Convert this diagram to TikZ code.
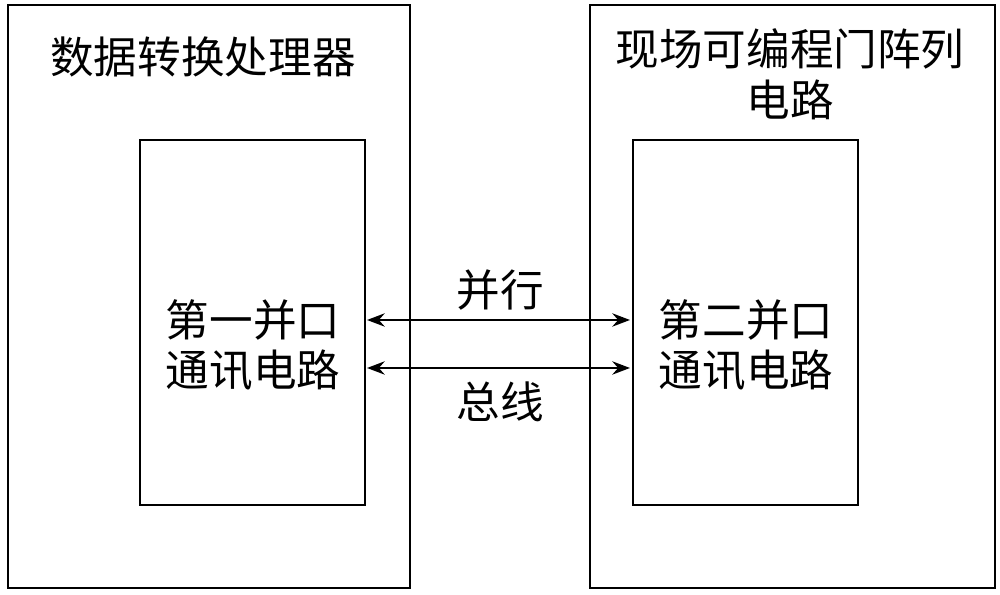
\documentclass[tikz,border=0pt]{standalone}
\usepackage{fontspec}
\setmainfont{Noto Sans CJK SC}
\usetikzlibrary{arrows.meta}
\begin{document}
\begin{tikzpicture}[x=0.01cm, y=-0.01cm,
    every node/.style={font=\fontsize{12.4}{14.4}\selectfont},
    box/.style={draw, thick, inner sep=0pt},
    link/.style={thick, {Stealth[length=5pt]}-{Stealth[length=5pt]}}]
            \useasboundingbox (0,0) rectangle (1000,595);
            \draw[box] (8,5) rectangle (410,588);
            \draw[box] (590,5) rectangle (995,588);
            \draw[box] (140,140) rectangle (365,505);
            \draw[box] (633,140) rectangle (858,505);
            \node (t1) at (203,57) {数据转换处理器};
            \node[align=center] (t2) at (790,74) {现场可编程门阵列\\电路};
            \node[align=center] (p1) at (253,345) {第一并口\\通讯电路};
            \node[align=center] (p2) at (746,345) {第二并口\\通讯电路};
            \coordinate (a1) at (367,320);
            \coordinate (a2) at (630,320);
            \coordinate (b1) at (367,368);
            \coordinate (b2) at (630,368);
            \draw[link] (a1) -- (a2);
            \draw[link] (b1) -- (b2);
            \node (l1) at (500,290) {并行};
            \node (l2) at (500,402) {总线};
        \end{tikzpicture}
\end{document}
